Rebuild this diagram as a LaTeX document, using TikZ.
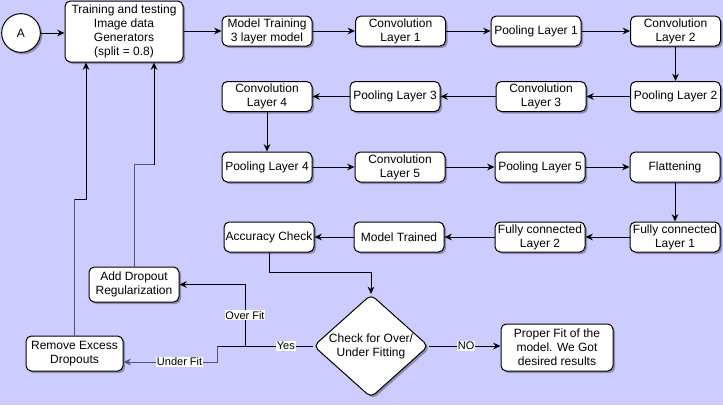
\documentclass[tikz,border=0pt]{standalone}
\usepackage{fontspec}
\setmainfont{Liberation Sans}
\usetikzlibrary{arrows.meta,shapes.geometric,shadows}
\definecolor{bg}{HTML}{CCCCFF}
\definecolor{fb}{HTML}{55556E}
\begin{document}
\begin{tikzpicture}[x=0.75pt,y=-0.75pt,
  shad/.style={drop shadow={shadow xshift=1.5pt,shadow yshift=-1.5pt,opacity=0.3,fill=black}},
  box/.style={draw,fill=white,rounded corners=4pt,line width=0.75pt,align=center,
    font=\fontsize{9}{10.5}\selectfont,inner sep=1pt,shad,
    minimum width=67.5pt,minimum height=22.5pt},
  arr/.style={-{Stealth[length=5.5pt,width=5pt]},line width=0.75pt},
  ln/.style={line width=0.75pt},
  lbl/.style={fill=white,text=black,inner sep=0.6pt,font=\fontsize{8.25}{9}\selectfont}]
\useasboundingbox (0,0) rectangle (723,405);
\fill[bg] (0,0) rectangle (723,405);

% nodes
\node[circle,draw,fill=white,line width=0.75pt,minimum size=29pt,inner sep=0pt,shad,font=\fontsize{9}{10.5}\selectfont] (A) at (21,33) {A};
\node[box,minimum width=88.5pt,minimum height=45.75pt] (T) at (124,31.5) {Training and testing\\Image data\\Generators\\(split = 0.8)};
\node[box] (MT) at (267,31) {Model Training\\3 layer model};
\node[box] (C1) at (400.5,31) {Convolution\\Layer 1};
\node[box] (P1) at (536,31) {Pooling Layer 1};
\node[box] (C2) at (675.5,31) {Convolution\\Layer 2};
\node[box] (P2) at (675.5,96.5) {Pooling Layer 2};
\node[box] (C3) at (541,96.5) {Convolution\\Layer 3};
\node[box] (P3) at (395,96.5) {Pooling Layer 3};
\node[box] (C4) at (267,96.5) {Convolution\\Layer 4};
\node[box] (P4) at (267,167) {Pooling Layer 4};
\node[box] (C5) at (400,167) {Convolution\\Layer 5};
\node[box] (P5) at (540,167) {Pooling Layer 5};
\node[box] (FL) at (675,167) {Flattening};
\node[box] (F1) at (675,237) {Fully connected\\Layer 1};
\node[box] (F2) at (540,237) {Fully connected\\Layer 2};
\node[box] (MTr) at (399,237) {Model Trained};
\node[box] (AC) at (269,237) {Accuracy Check};
\node[diamond,draw,fill=white,line width=0.75pt,rounded corners=4pt,shad,aspect=1.12,
  inner sep=0pt,minimum width=86.25pt,minimum height=77.25pt,align=center,
  font=\fontsize{9}{10.5}\selectfont] (D) at (371,346) {Check for Over/\\Under Fitting};
\node[box,minimum width=84pt,minimum height=35.25pt] (PF) at (557,347.5) {Proper Fit of the\\model. We Got\\desired results};
\node[box,minimum width=67.5pt,minimum height=26.25pt] (AD) at (134,284.5) {Add Dropout\\Regularization};
\node[box,minimum width=72.75pt,minimum height=26.25pt] (RE) at (74.5,353.5) {Remove Excess\\Dropouts};

% main chain
\draw[arr] (A) -- (A -| T.west);
\draw[arr] (T.east |- MT) -- (MT);
\draw[arr] (MT) -- (C1);
\draw[arr] (C1) -- (P1);
\draw[arr] (P1) -- (C2);
\draw[arr] (C2) -- (P2);
\draw[arr] (P2) -- (C3);
\draw[arr] (C3) -- (P3);
\draw[arr] (P3) -- (C4);
\draw[arr] (C4) -- (P4);
\draw[arr] (P4) -- (C5);
\draw[arr] (C5) -- (P5);
\draw[arr] (P5) -- (FL);
\draw[arr] (FL) -- (F1);
\draw[arr] (F1) -- (F2);
\draw[arr] (F2) -- (MTr);
\draw[arr] (MTr) -- (AC);
\draw[arr] (AC.south) -- ++(0,20) -| (D.north);

% decision
\coordinate (J) at (245,346);
\coordinate (K) at (217,346);
\coordinate (ufy) at (0,362);
\draw[ln] (D.west) -- node[lbl,pos=0.4]{Yes} (J);
\draw[arr] (J) |- node[lbl,pos=0.25]{Over Fit} (AD.east);
\draw[ln] (J) -- (K);
\draw[arr,fb] (K) |- node[lbl,pos=0.7]{Under Fit} (RE.east |- ufy);
\draw[arr] (D.east) -- node[lbl,pos=0.52]{NO} (PF.west |- D.east);

% feedback
\coordinate (r1) at (86,199);
\coordinate (a1) at (154,164);
\draw[arr] (RE.north) |- (r1) -- (r1 |- T.south);
\draw[ln,fb] (RE.north) -- (RE.north |- r1);
\draw[arr] (AD.north) |- (a1) -- (a1 |- T.south);
\draw[ln,fb] (AD.north) |- (a1);
\end{tikzpicture}
\end{document}
